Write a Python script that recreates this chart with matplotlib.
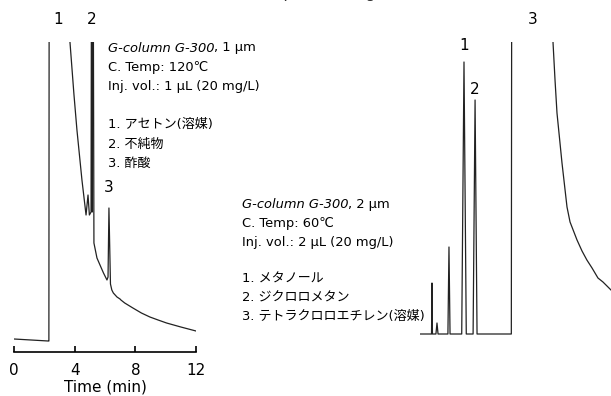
import numpy as np
import matplotlib
matplotlib.use('Agg')
from matplotlib import pyplot as plt

plt.rcParams['font.family'] = ['DejaVu Sans', 'Noto Sans CJK JP']

# left chromatogram (G-300, 1 um, 120 C): time (min) / signal (arb.)
left_time = [0.0, 2.25, 2.30, 2.33, 3.69, 3.95, 4.15, 4.48, 4.75, 4.88, 4.97, 5.08,
             5.13, 5.16, 5.19, 5.27, 5.47, 5.67, 5.90, 6.13, 6.20, 6.26, 6.36, 6.45,
             6.55, 6.79, 6.99, 7.05, 7.30, 7.84, 8.40, 8.96, 9.50, 10.06, 11.0, 12.0]
left_signal = [13, 11, 11, 600, 310, 258, 222, 172, 137, 157, 137, 140,
               600, 140, 600, 109, 94, 87, 79, 72, 75, 144, 68, 62,
               59, 55, 53, 52, 49, 44, 39, 35, 32, 29, 25, 21]
left_ticks = [0, 4, 8, 12]
left_peaks = [('1', 2.9), ('2', 5.14)]
left_peak3 = ('3', 6.26, 164)
left_info = ['C. Temp: 120℃', 'Inj. vol.: 1 µL (20 mg/L)', '',
             '1. アセトン(溶媒)', '2. 不純物', '3. 酢酸']

# right chromatogram (G-300, 2 um, 60 C)
right_time = [0.0, 0.66, 0.76, 0.79, 0.82, 1.05, 1.12, 1.19, 1.84, 1.91,
              1.98, 2.75, 2.90, 3.05, 3.50, 3.63, 3.76, 6.02, 6.06, 6.10,
              8.60, 8.77, 8.90, 9.03, 9.36, 9.69, 9.89, 10.35, 10.68, 11.0,
              11.34, 11.73, 12.06, 12.59]
right_signal = [18, 18, 18, 69, 18, 18, 29, 18, 18, 105,
                18, 18, 290, 18, 18, 252, 18, 18, 600, 600,
                400, 309, 272, 239, 189, 145, 130, 112, 101, 92,
                84, 74, 70, 62]
right_peaks = [('1', 2.90, 306), ('2', 3.63, 262), ('3', 7.4, 332)]
right_info = ['C. Temp: 60℃', 'Inj. vol.: 2 µL (20 mg/L)', '',
              '1. メタノール', '2. ジクロロメタン', '3. テトラクロロエチレン(溶媒)']

fig = plt.figure(figsize=(6.11, 3.96), dpi=100)

ax = fig.add_axes([14/611, 44/396, 182/611, 310/396])
ax.plot(left_time, left_signal, color='#222222', lw=0.9)
ax.set_xlim(0, 12)
ax.set_ylim(0, 310)
for s in ['left', 'right', 'top']:
    ax.spines[s].set_visible(False)
ax.spines['bottom'].set_linewidth(1.2)
ax.set_yticks([])
ax.set_xticks(left_ticks)
ax.tick_params(axis='x', direction='in', length=4, width=1.2, pad=8, labelsize=11)
ax.set_xlabel('Time (min)', fontsize=11, labelpad=1)
for lab, t in left_peaks:
    ax.text(t, 332, lab, ha='center', va='center', fontsize=11, clip_on=False)
ax.text(left_peak3[1], left_peak3[2], left_peak3[0], ha='center', va='center', fontsize=11)

ax2 = fig.add_axes([420/611, 44/396, 191/611, 310/396])
ax2.plot(right_time, right_signal, color='#222222', lw=0.9)
ax2.set_xlim(0, 12.59)
ax2.set_ylim(0, 310)
ax2.axis('off')
for lab, t, h in right_peaks:
    ax2.text(t, h, lab, ha='center', va='center', fontsize=11, clip_on=False)

# text blocks
def info_block(x, y, col, lines, step):
    t = fig.text(x/611, 1 - y/396, 'G-column G-300', style='italic', fontsize=9.4, va='center')
    fig.canvas.draw()
    bb = t.get_window_extent()
    fig.text(bb.x1/611, 1 - y/396, ', ' + col, fontsize=9.4, va='center')
    for i, line in enumerate(lines):
        fig.text(x/611, 1 - (y + step*(i+1))/396, line, fontsize=9.4, va='center')

info_block(108, 48, '1 µm', left_info, 19.2)
info_block(242, 205, '2 µm', right_info, 18.6)

# header line, cut by the top edge
fig.text(52/611, 1.016, '有機溶剤中の微量成分', fontsize=11, va='center', color='#333333')
fig.text(205/611, 1.016, 'Trace components organic solvent', fontsize=11, va='center',
         color='#333333')

fig.savefig('out.png', dpi=100)
